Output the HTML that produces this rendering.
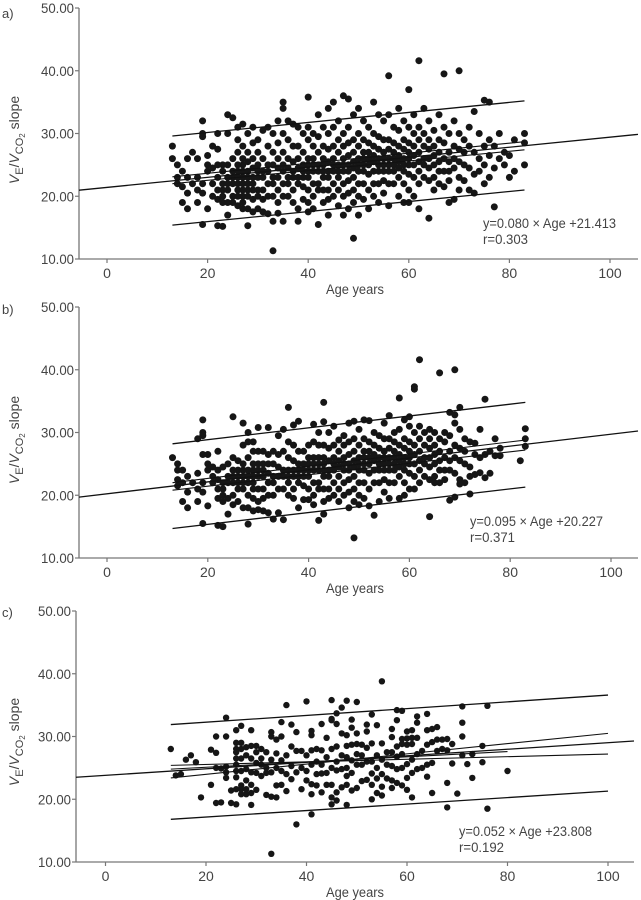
<!DOCTYPE html>
<html><head><meta charset="utf-8"><style>
html,body{margin:0;padding:0;background:#fff;}
svg{display:block;font-family:"Liberation Sans",sans-serif;}
</style></head><body>
<svg id="chart" width="641" height="900" viewBox="0 0 641 900" xmlns="http://www.w3.org/2000/svg"></svg>
<script>
// ---------- shared tick labels ----------
const yTicks = [10, 20, 30, 40, 50];
const xTicks = [0, 20, 40, 60, 80, 100];
const panelLetters = ["a)", "b)", "c)"];
// ---------- regression summary ----------
const regSlope = [0.080, 0.095, 0.052];
const regIntercept = [21.413, 20.227, 23.808];
const regR = ["0.303", "0.371", "0.192"];
// prediction interval endpoints [ageStart, lowStart, upStart, ageEnd, lowEnd, upEnd]
const piA = [13, 15.4, 29.6, 83, 21.0, 35.2];
const piB = [13, 14.7, 28.2, 83, 21.3, 34.8];
const piC = [13, 16.8, 31.9, 100, 21.3, 36.6];
// confidence-band lines [ageStart, lowStart, upStart, ageEnd, lowEnd, upEnd]
const ciA = [13, 22.0, 23.1, 83, 27.4, 28.7];
const ciB = [13, 20.8, 22.0, 83, 27.2, 28.8];
const ciC = [13, 25.4, 23.4, 100, 27.2, 30.5];
const extraC = [13, 24.8, 80, 27.6];

// ---------- panel a data ----------
const agesA = [13,14,15,16,17,18,19,20,21,22,23,24,25,26,27,28,29,30,31,32,33,34,35,36,37,38,39,40,41,42,43,44,45,46,47,48,49,50,51,52,53,54,55,56,57,58,59,60,61,62,63,64,65,66,67,68,69,70,71,72,73,74,75,76,77,78,79,80,81,83];
const slopesA = [
[28,26],[25,23,22],[24,19,21.5],[18,26,20.5,23],[27,22],[19,26,23,21],[32,30,29.5,15.5,20.5,22],[25,24,18,26.5],
[28,22,24.5,20],[30,27.5,25,23,21,19.5,15.3],[15.2,25,24,22,21,20,19],[33,30,25,23,22,21,19,17],[32.5,26,24,23,22,20,19],[31,29,27,25,24,23,22,21,20,18.5],[31.5,28,26,25,24,23,22,21,20,18,19],[30,27,25.5,24,23,22,21,20,18,15.3],[31,28.5,26,24.5,23,22,21,19.5,17.5],[29,27,25,24,23,21,20,18],
[30.5,26,24,23,21,19.5,17.5],[31,28,25,24,22,20,17.2],[30,27,25,23,22,20,16,11.3],[32,28.5,26,24.5,23,21,19,17.3],[35,34,30,27,25,24,22,20,16],[32,29,26,24.5,23,22,20],[31.5,28,25.5,24,23,21,19],[31,28,26,24.5,23,22,18,16],[30,27,25,24,23,21.5,19.5],[35.8,31,29,26,25,24,23,21,19,17.5],
[30,28,26,25,24,22,20,18],[33,29.5,27,25,24,22,21,15.5],[31,28,26,25,24,23,21,19],[34,30,27.5,25.5,24,23,21,19.5,17],[35,31,28,26,25,24,22,20],[32,29,27,25,24,23,21,18.5],[36,30,28,26,25,24,22,20,17],[35.5,31,28.5,26.5,25,24,22.5,20.5,18],[33,29,27,25.5,24.5,23,21,19,13.3],[34,30,28,26,25,24,22,20,17],
[32,29,27,26,25,24,22,19.5],[31,28.5,27,26,25,23.5,21,18],[35,30,28,26.5,25.5,24,22,20],[33,29.5,27.5,26,25,24,22,19],[32,29,27,26,25,24,22.5,20.5],[39.2,33,29,27.5,26,25,24,22,18.5],[31,28.5,27,26,25,24,22],[34,30.5,28,26.5,25.5,24.5,23,20],[32,29,27.5,26,25,24,22,19],[37,31,28.5,27,26,25,23.5,21,19],
[33,30,28,26.5,25,23,20],[41.6,31,29,27,25.5,24,22,18],[34,30,28,26,25,23],[32,29,27.5,26,24.5,22.5,16.5],[30.5,28,26.5,25,23,21],[33,29,27,25.5,24,22],[39.5,31,28.5,26,24,21.5],[30,27,25.5,24,22.5,19],[32,28,26,24.5,19.5],[40,30,27.5,25.5,23,21],
[29,27,25,22.5],[31,28,24.5,21],[33.5,27,23.5,20.5],[30,26,24],[35.3,28,25,22],[35,29,26.5,23],[28,24.5,18.3],[30,26],[27,25],[26.5,23],[29,24],[30,28.5,25]];

// ---------- panel b data ----------
const agesB = [13,14,15,16,17,18,19,20,21,22,23,24,25,26,27,28,29,30,31,32,33,34,35,36,37,38,39,40,41,42,43,44,45,46,47,48,49,50,51,52,53,54,55,56,57,58,59,60,61,62,63,64,65,66,67,68,69,70,71,72,73,74,75,76,77,78,82,83];
const slopesB = [
[26],[25,24,22.5,21.5],[24,19,22],[18,20.5,23],[22],[19,21,23.5,29],[32,30,29.5,15.5,20.5,22,26.5],[26.5,25,24,18.3],
[22,23,24.5],[27,24,22.5,21,19.5,15.2],[15,24.5,22,21,19,20],[25,23,22,17,19.5],[32.5,26,24,23,22,20,18.5],[25.5,24,23,22,21,19],[31.5,28,25,24,23,22,21,18],[30,28.5,26,24,23,22,20,18,15.4],[28.5,27,25,24,23,22,21,19.5,17.5],[30.8,27,25,24,23,21,19,17.7],
[27,25,24,23,21,19.5,17.5],[30.8,26.5,25,23.5,22,20,17.2],[27,25,23,22,20,16.2],[29.5,26.5,24.5,23,21,17.2],[30.5,27,24,23,21,16.1],[34,28.5,26,24,23,22,20],[31.2,28,25.5,24,23,21,19.5],[31.8,27,25,24,23,22,18],[27,25,24,23,21.5,19.3],[28,26,25,24,23,21,19.3],
[31.3,28.5,26,25,24,22,20,18.5],[30,28,26,25,24,22,21,16],[34.8,31.7,28,26,25,24,23,21,19,17],[30,27.5,25.5,24,23,21,19.5],[31,28,26,25,24,22,20],[28.8,27,25.5,24.5,23,21,19],[29.5,28,26,25,24,22,20],[31.5,28.5,26.5,25,24,22.5,20.5,18],[31.8,29,27,25.5,24.5,23,21,19,13.2],[30.5,28,26,25,24,22,20,18.5],
[32,29,27,26,25,24,22,19.5],[31.9,28.5,27,26,25,23.5,21,18.3],[30,28,26.5,25.5,24,22,16.8],[29.5,27.5,26,25,24,22,19],[31.5,29,27,26,25,24,22.5,20.5],[32.7,29,27.5,26,25,24,22,19.5],[30,28.5,27,26,25,24,22],[35.5,30.5,28,26.5,25.5,24.5,23,19.5],[32,29,27.5,26,25,24,22,20],[32.5,31,28.5,27,26,25,23.5,21],
[37.3,36.9,30,28,26.5,25,23,21],[41.6,31,29,27,25.5,24,22],[30,28,26,25,23],[30.5,29,27.5,26,24.5,22.5,16.6],[30,28,26.5,25,23,22],[39.5,29,27,25.5,24,22],[30,28.5,26,24,22.5],[33.2,29.5,27,25.5,24,19.2],[40,32.8,31.5,28,26,23.5,19.7],[34,30.5,27.5,25.5,22.5,21.8],
[29,27,25,22],[28.5,24.5,23,20.2],[28.3,26.5,23.3],[30.5,26,23.6],[35.3,26.5,22.8],[27,23.5],[29,26.3],[27.5,26.3],[25.5],[30.6,29,27.8]];

// ---------- panel c data ----------
const agesC = [13,14,15,16,17,18,19,21,22,23,24,25,26,27,28,29,30,31,32,33,34,35,36,37,38,39,40,41,42,43,44,45,46,47,48,49,50,51,52,53,54,55,56,57,58,59,60,61,62,63,64,65,66,67,68,69,70,71,72,73,75,76,80];
const slopesC = [
[28],[23.8],[24],[26.3],[27],[25.9],[20.3],[22.3,27.9],[30,27.4,19.4,25],[24.9,19.5],[33,30,25.2,24.3,23.4],[21.4,19.4],[31,29,28,27.5,26.5,25.5,24.5,23.5,19.2,21.6],[31.7,29,28,26.5,24.5,22.2,21.6,20.8],[28.3,27,24.8,23,21.6,20.8],[31,28.5,26.5,24.3,22.3,21,19.1],[28.5,27.5,25.8,24.2,21.5],[28,26.5,25.5,23.7],[27.5,25,24.2,20.7],[30.7,30,26.3,24.3,20.4,11.3],[29.5,27.3,25,22.2,20.3],[32.3,30,26.2,24.5,22.3],[35,27,24,21.3],[31.9,28.4,25.3,23.2],[30.7,27.7,24.3,16],[27.7,25,21.6],[35.6,27,24.5,23],[30.9,30.2,27.8,25.5,22.4,20.8,17.6],[28,26,24,22.2],[32,27.8,25.5,24.1,21.1],[29.8,26.7,24.2,22.3],[35.8,32.8,32.6,28,25,22.3,20.3,19.2],[33.7,32,28.4,26,24.6,21.1,19.8],[34.6,30.5,27,24.8,21.9],[35.7,30.2,28.5,26.7,25,23.7,22.3,19.1],[32.7,31.4,28.7,26.2,24.2,21.4],[35.5,30.5,28.8,27.2,25.5,21.8],[28.7,27,25.5,22.9],[31.9,30.8,28.2,26,23.1],[33.5,28.9,26,24.1,22.3,20],[31.8,27,25,23.3,21],[38.8,28.9,26.3,24,22,20.6],[27.5,25.5,23.3],[31.2,29.9,27.5,25.3,23,21.8],[34.2,32.6,28.4,26.8,24.8,22.6],[34.1,29.6,28.8,27.2,25,22.2],[30.8,29.7,28.7,25.6,23.4,21.5],[31,29.8,28.8,26.3,24.2,20.3],[33.2,32.2,29.8,27.2,24.8],[27.7,25],[33.6,31,28.7,25.5,23.6],[31.2,29.1,25.8,21],[31.5,29.5,27.7],[29.5,28],[29.6,27.8,22.6,18.7],[28.8,25.7],[20.9],[34.8,32.2,30,27],[25.6],[27.2,23.4],[28.5,25.9],[34.9,18.5],[24.5]];

// ---------- layout ----------
const panels = [
  {ages: agesA, slopes: slopesA, pi: piA, ci: ciA, extra: null, axX: 79, x0: 107, x100: 610, yTop: 8, yBot: 259, right: 638, r: 3.5, eqX: 483, eqY: 228, titleCy: 140, letterY: 18},
  {ages: agesB, slopes: slopesB, pi: piB, ci: ciB, extra: null, axX: 79, x0: 107, x100: 611, yTop: 307, yBot: 558, right: 638, r: 3.5, eqX: 470, eqY: 526, titleCy: 440, letterY: 314},
  {ages: agesC, slopes: slopesC, pi: piC, ci: ciC, extra: extraC, axX: 76, x0: 105.5, x100: 608, yTop: 611, yBot: 862, right: 634, r: 3.2, eqX: 459, eqY: 836, titleCy: 742, letterY: 617}
];
const NS = "http://www.w3.org/2000/svg";
const svg = document.getElementById("chart");
function mk(tag, attrs, parent) {
  const e = document.createElementNS(NS, tag);
  for (const k in attrs) e.setAttribute(k, attrs[k]);
  (parent || svg).appendChild(e);
  return e;
}
panels.forEach((p, pi) => {
  const g = mk("g", {});
  
  
  const sx = a => p.x0 + (p.x100 - p.x0) * a / 100;
  const sy = v => p.yBot - (p.yBot - p.yTop) * (v - 10) / 40;
  const ageMin = (p.axX - p.x0) / (p.x100 - p.x0) * 100;
  const ageMax = (p.right - p.x0) / (p.x100 - p.x0) * 100;

  const lt = mk("text", {x: 2, y: p.letterY, "font-size": 13, fill: "#444"}, g);
  lt.textContent = panelLetters[pi];
  
  

  const ya = mk("line", {x1: p.axX, y1: p.yTop, x2: p.axX, y2: p.yBot, stroke: "#777", "stroke-width": 1.3}, g);
  
  
  const xa = mk("line", {x1: p.axX, y1: p.yBot, x2: p.right, y2: p.yBot, stroke: "#777", "stroke-width": 1.3}, g);
  
  

  yTicks.forEach(t => {
    const y = sy(t);
    mk("line", {x1: p.axX - 4, y1: y, x2: p.axX, y2: y, stroke: "#777", "stroke-width": 1.2}, g);
    const tx = mk("text", {x: p.axX - 5, y: y + 5, "font-size": 14, fill: "#444", "text-anchor": "end", textLength: 33, lengthAdjust: "spacingAndGlyphs"}, g);
    tx.textContent = t.toFixed(2);
    
    
  });
  xTicks.forEach(t => {
    const x = sx(t);
    mk("line", {x1: x, y1: p.yBot, x2: x, y2: p.yBot + 4, stroke: "#777", "stroke-width": 1.2}, g);
    const tx = mk("text", {x: x, y: p.yBot + 19, "font-size": 14, fill: "#444", "text-anchor": "middle"}, g);
    tx.textContent = String(t);
    
    
  });
  const xt = mk("text", {x: 355, y: p.yBot + 35, "font-size": 13.5, fill: "#444", "text-anchor": "middle", textLength: 58, lengthAdjust: "spacingAndGlyphs"}, g);
  xt.textContent = "Age years";
  
  

  const yt = mk("text", {x: 0, y: 0, "font-size": 14, fill: "#444", "text-anchor": "middle", transform: "translate(19," + p.titleCy + ") rotate(-90)"}, g);
  yt.innerHTML = '<tspan font-style="italic">V</tspan><tspan font-size="11" dy="4">E</tspan><tspan dy="-4">/</tspan><tspan font-style="italic">V</tspan><tspan font-size="11" dy="4">CO</tspan><tspan font-size="8" dy="2">2</tspan><tspan dy="-6"> slope</tspan>';
  
  

  const pg = mk("g", {fill: "#161616"}, g);
  
  
  p.ages.forEach((a, i) => {
    p.slopes[i].forEach(v => {
      const c = mk("circle", {cx: sx(a).toFixed(1), cy: sy(v).toFixed(1), r: p.r}, pg);
      
      
    });
  });

  const ln = (a1, v1, a2, v2, name, w) => {
    const l = mk("line", {x1: sx(a1), y1: sy(v1), x2: sx(a2), y2: sy(v2), stroke: "#111", "stroke-width": w || 1.3}, g);
    
    
  };
  ln(ageMin, regIntercept[pi] + regSlope[pi] * ageMin, ageMax, regIntercept[pi] + regSlope[pi] * ageMax, 'regression-line');
  ln(p.pi[0], p.pi[1], p.pi[3], p.pi[4], 'prediction-lower');
  ln(p.pi[0], p.pi[2], p.pi[3], p.pi[5], 'prediction-upper');
  ln(p.ci[0], p.ci[1], p.ci[3], p.ci[4], 'confidence-lower', 1.1);
  ln(p.ci[0], p.ci[2], p.ci[3], p.ci[5], 'confidence-upper', 1.1);
  if (p.extra) ln(p.extra[0], p.extra[1], p.extra[2], p.extra[3], 'subgroup-fit-line', 1.1);

  const e1 = mk("text", {x: p.eqX, y: p.eqY, "font-size": 14, fill: "#444", textLength: 133, lengthAdjust: "spacingAndGlyphs"}, g);
  e1.textContent = "y=" + regSlope[pi].toFixed(3) + " \u00d7 Age +" + regIntercept[pi].toFixed(3);
  
  
  const e2 = mk("text", {x: p.eqX, y: p.eqY + 16, "font-size": 14, fill: "#444", textLength: 45, lengthAdjust: "spacingAndGlyphs"}, g);
  e2.textContent = "r=" + regR[pi];
  
  
});
</script>
</body></html>
